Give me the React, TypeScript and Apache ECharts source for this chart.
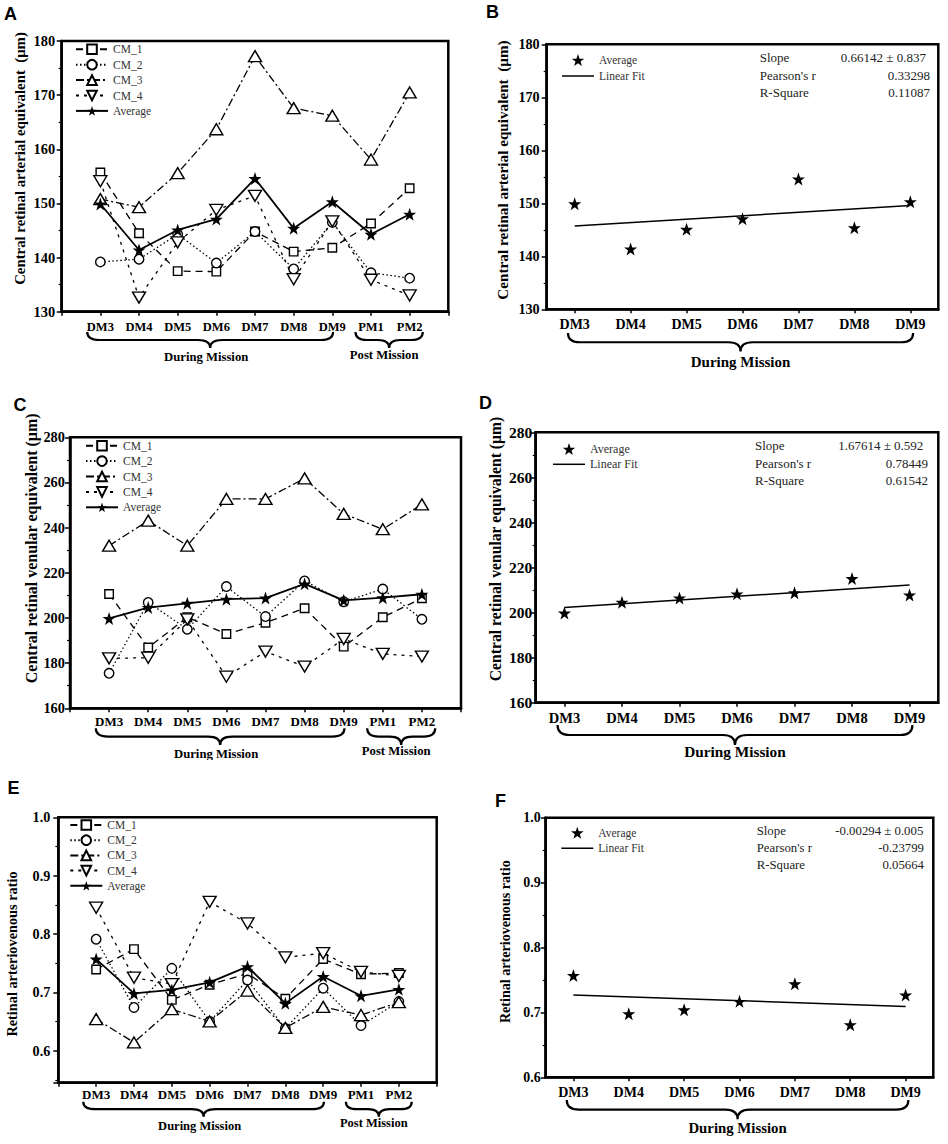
import React, { useEffect, useRef } from "react";
import * as echarts from "echarts";

// ---------- data ----------
const CATEGORIES = ["DM3", "DM4", "DM5", "DM6", "DM7", "DM8", "DM9", "PM1", "PM2"];
const DURING = CATEGORIES.slice(0, 7);

// Panel A / B : central retinal arterial equivalent (µm)
const A_CM1 = [155.7, 144.5, 137.5, 137.4, 144.8, 141.1, 141.8, 146.3, 152.8];
const A_CM2 = [139.2, 139.7, 144.3, 139.0, 144.8, 137.9, 146.5, 137.2, 136.2];
const A_CM3 = [150.8, 149.3, 155.6, 163.7, 177.2, 167.6, 166.2, 158.1, 170.5];
const A_CM4 = [154.1, 132.6, 142.8, 148.8, 151.4, 136.0, 146.7, 135.9, 133.0];
const A_AVG = [149.9, 141.4, 145.1, 147.1, 154.6, 145.4, 150.3, 144.3, 148.0];
const B_FIT = [145.7, 149.6];
const B_STATS = ["0.66142 \u00b1 0.837", "0.33298", "0.11087"];

// Panel C / D : central retinal venular equivalent (µm)
const C_CM1 = [210.6, 186.9, 200.3, 192.9, 197.9, 204.3, 187.3, 200.3, 208.7];
const C_CM2 = [175.5, 206.9, 195.0, 213.9, 200.6, 216.4, 207.2, 212.8, 199.4];
const C_CM3 = [232.0, 243.1, 232.0, 252.7, 252.7, 261.8, 246.1, 239.3, 250.3];
const C_CM4 = [182.1, 182.4, 199.4, 174.0, 185.1, 178.5, 190.7, 184.1, 182.9];
const C_AVG = [199.8, 204.6, 206.5, 208.3, 208.8, 215.1, 207.8, 209.0, 210.5];
const D_FIT = [202.2, 212.2];
const D_STATS = ["1.67614 \u00b1 0.592", "0.78449", "0.61542"];

// Panel E / F : retinal arteriovenous ratio
const E_CM1 = [0.739, 0.774, 0.687, 0.713, 0.732, 0.689, 0.757, 0.731, 0.733];
const E_CM2 = [0.791, 0.674, 0.741, 0.65, 0.721, 0.638, 0.707, 0.643, 0.684];
const E_CM3 = [0.654, 0.614, 0.671, 0.65, 0.703, 0.639, 0.675, 0.661, 0.683];
const E_CM4 = [0.845, 0.725, 0.714, 0.855, 0.818, 0.76, 0.767, 0.735, 0.728];
const E_AVG = [0.757, 0.698, 0.704, 0.717, 0.744, 0.681, 0.727, 0.694, 0.705];
const F_FIT = [0.727, 0.709];
const F_STATS = ["-0.00294 \u00b1 0.005", "-0.23799", "0.05664"];

const STAT_LABELS = ["Slope", "Pearson's r", "R-Square"];
const LEGEND_NAMES = ["CM_1", "CM_2", "CM_3", "CM_4", "Average"];

// ---------- styles ----------
const SERIF = '"Liberation Serif", "Times New Roman", serif';
const SANS = '"Liberation Sans", Arial, sans-serif';
const STAR =
  "path://M50,0L61.8,35.1L97.6,35.1L68.8,56.8L79.4,91L50,70L20.6,91L31.2,56.8L2.4,35.1L38.2,35.1Z";

const CM_STYLES = [
  { symbol: "rect", size: 8.5, rotate: 0, dash: [7, 5] },
  { symbol: "circle", size: 9.5, rotate: 0, dash: [1.5, 2.5] },
  { symbol: "triangle", size: [13, 11], rotate: 0, dash: [8, 3, 2, 3] },
  { symbol: "triangle", size: [13, 11], rotate: 180, dash: [3, 5] },
];

const BraceShape = (echarts.graphic as any).extendShape({
  shape: { x1: 0, x2: 0, xm: 0, y: 0, h: 0 },
  buildPath(ctx: any, s: any) {
    const ym = s.y + s.h * 0.5;
    const r = Math.min(12, (s.x2 - s.x1) / 6);
    ctx.moveTo(s.x1, s.y);
    ctx.quadraticCurveTo(s.x1, ym, s.x1 + r, ym);
    ctx.lineTo(s.xm - r, ym);
    ctx.quadraticCurveTo(s.xm, ym, s.xm, s.y + s.h);
    ctx.moveTo(s.xm, s.y + s.h);
    ctx.quadraticCurveTo(s.xm, ym, s.xm + r, ym);
    ctx.lineTo(s.x2 - r, ym);
    ctx.quadraticCurveTo(s.x2, ym, s.x2, s.y);
  },
});
(echarts.graphic as any).registerShape("brace", BraceShape);

function txt(x: number, y: number, text: string, size: number, opts: any = {}) {
  const align = opts.align || "left";
  return {
    type: "text",
    x,
    y,
    rotation: opts.rotation || 0,
    silent: true,
    style: {
      text,
      fill: opts.color || "#000",
      fontSize: size,
      fontWeight: opts.weight || "normal",
      fontFamily: opts.family || SERIF,
      textAlign: align,
      align,
      textVerticalAlign: "middle",
      verticalAlign: "middle",
    },
  };
}

function brace(x1: number, x2: number, y: number, h: number) {
  return {
    type: "brace",
    silent: true,
    shape: { x1, x2, xm: (x1 + x2) / 2, y, h },
    style: { fill: "none", stroke: "#000", lineWidth: 2.2 },
  };
}

const tenthFmt = (v: number) =>
  Math.abs(v * 10 - Math.round(v * 10)) < 1e-6 ? v.toFixed(1) : "";

type Panel = {
  kind: "lines" | "fit";
  letter: string;
  letterPos: [number, number];
  div: [number, number, number, number];
  grid: [number, number, number, number];
  yMin: number;
  yMax: number;
  yInterval?: number;
  yFmt?: (v: number) => string;
  yTitle: string;
  yTitlePos: [number, number];
  yTitleSize: number;
  xLabelSize: number;
  xMargin: number;
  yLabelSize: number;
  yMargin: number;
  legendLeft: number;
  legendFirst: number;
  legendGap: number;
  legendSize: number;
  braceOff: number;
  braceH: number;
  textSize: number;
  duringOff: number;
  postOff?: number;
  cm?: number[][];
  avg: number[];
  fit?: number[];
  stats?: string[];
  statX?: number;
  statYs?: number[];
  statRight?: number[];
  statSize?: number;
};

function axisCommon(p: Panel, dl: number, dt: number) {
  const yAxis: any = {
    type: "value",
    min: p.yMin,
    max: p.yMax,
    axisLine: { show: true, onZero: false, lineStyle: { color: "#000", width: 2.5 } },
    axisTick: { show: true, length: 5, lineStyle: { color: "#000", width: 1.5 } },
    minorTick: { show: true, splitNumber: 2, length: 3, lineStyle: { color: "#000", width: 1.2 } },
    axisLabel: {
      color: "#000",
      fontFamily: SERIF,
      fontWeight: "bold",
      fontSize: p.yLabelSize,
      margin: p.yMargin,
      formatter: p.yFmt || ((v: number) => String(v)),
    },
    splitLine: { show: false },
  };
  if (p.yInterval !== undefined) yAxis.interval = p.yInterval;
  else yAxis.splitNumber = 5;
  const grid = {
    left: p.grid[0] - dl,
    top: p.grid[1] - dt,
    width: p.grid[2] - p.grid[0],
    height: p.grid[3] - p.grid[1],
    show: true,
    borderColor: "#000",
    borderWidth: 2.5,
    backgroundColor: "transparent",
    containLabel: false,
    outerBoundsMode: "none",
  };
  return { yAxis, grid };
}

function buildOption(p: Panel) {
  const [dl, dt] = p.div;
  const { yAxis, grid } = axisCommon(p, dl, dt);
  const xLabel = {
    color: "#000",
    fontFamily: SERIF,
    fontWeight: "bold",
    fontSize: p.xLabelSize,
    margin: p.xMargin,
  };
  const legendBase = {
    show: true,
    orient: "vertical",
    left: p.legendLeft - dl,
    top: p.legendFirst - 6 - dt,
    itemWidth: 32,
    itemHeight: 12,
    itemGap: p.legendGap,
    padding: 0,
    selectedMode: false,
    textStyle: { fontFamily: SERIF, fontSize: p.legendSize, color: "#333", lineHeight: 12 },
  };
  if (p.kind === "lines") {
    const series: any[] = (p.cm || []).map((vals, k) => ({
      name: LEGEND_NAMES[k],
      type: "line",
      data: vals.map((v, i) => [i + 1, v]),
      symbol: CM_STYLES[k].symbol,
      symbolSize: CM_STYLES[k].size,
      symbolRotate: CM_STYLES[k].rotate,
      showAllSymbol: true,
      lineStyle: { color: "#000", width: 1.3, type: CM_STYLES[k].dash },
      itemStyle: { color: "#fff", borderColor: "#000", borderWidth: 1.4, opacity: 1 },
      emphasis: { disabled: true },
      silent: true,
      z: 2,
    }));
    series.push({
      name: "Average",
      type: "line",
      data: p.avg.map((v, i) => [i + 1, v]),
      symbol: STAR,
      symbolSize: 13,
      showAllSymbol: true,
      lineStyle: { color: "#000", width: 1.8, type: "solid" },
      itemStyle: { color: "#000", borderColor: "#000", borderWidth: 0, opacity: 1 },
      emphasis: { disabled: true },
      silent: true,
      z: 3,
    });
    return {
      animation: false,
      textStyle: { fontFamily: SERIF },
      grid,
      xAxis: {
        type: "value",
        min: 0,
        max: 10,
        interval: 1,
        axisLine: { show: true, onZero: false, lineStyle: { color: "#000", width: 2.5 } },
        axisTick: { show: true, length: 4, lineStyle: { color: "#000", width: 1.5 } },
        axisLabel: {
          ...xLabel,
          formatter: (v: number) => CATEGORIES[Math.round(v) - 1] ?? "",
        },
        splitLine: { show: false },
      },
      yAxis,
      legend: { ...legendBase, data: LEGEND_NAMES },
      series,
    };
  }
  const avg7 = p.avg.slice(0, DURING.length);
  const fit = p.fit || [];
  return {
    animation: false,
    textStyle: { fontFamily: SERIF },
    grid,
    xAxis: {
      type: "category",
      data: DURING,
      boundaryGap: true,
      axisLine: { show: true, onZero: false, lineStyle: { color: "#000", width: 2.5 } },
      axisTick: { show: true, alignWithLabel: true, length: 4, lineStyle: { color: "#000", width: 1.5 } },
      axisLabel: { ...xLabel, interval: 0 },
      splitLine: { show: false },
    },
    yAxis,
    legend: {
      ...legendBase,
      data: [{ name: "Average" }, { name: "Linear Fit", icon: "path://M0,0H32V1.5H0Z" }],
    },
    series: [
      {
        name: "Linear Fit",
        type: "line",
        data: [
          [DURING[0], fit[0]],
          [DURING[DURING.length - 1], fit[1]],
        ],
        symbol: "none",
        lineStyle: { color: "#000", width: 1.5 },
        itemStyle: { color: "#000", opacity: 1 },
        emphasis: { disabled: true },
        silent: true,
        z: 2,
      },
      {
        name: "Average",
        type: "scatter",
        data: avg7,
        symbol: STAR,
        symbolSize: 13,
        itemStyle: { color: "#000", opacity: 1 },
        emphasis: { disabled: true },
        silent: true,
        z: 3,
      },
    ],
  };
}

function buildGraphics(p: Panel, chart: any) {
  const [dl, dt] = p.div;
  const els: any[] = [];
  els.push(txt(p.letterPos[0] - dl, p.letterPos[1] - dt, p.letter, 18, { family: SANS, weight: "bold", align: "center" }));
  els.push(
    txt(p.yTitlePos[0] - dl, p.yTitlePos[1] - dt, p.yTitle, p.yTitleSize, {
      weight: "bold",
      align: "center",
      rotation: Math.PI / 2,
    })
  );
  const axisY = p.grid[3] - dt;
  const px = (v: number) => chart.convertToPixel({ xAxisIndex: 0 }, v) as number;
  if (p.kind === "lines") {
    const d1 = px(0.66), d2 = px(7.02);
    const q1 = px(7.6), q2 = px(9.34);
    els.push(brace(d1, d2, axisY + p.braceOff, p.braceH));
    els.push(brace(q1, q2, axisY + p.braceOff, p.braceH));
    els.push(txt((d1 + d2) / 2 - 4, axisY + p.duringOff, "During Mission", p.textSize, { weight: "bold", align: "center" }));
    els.push(txt((q1 + q2) / 2 - 5, axisY + (p.postOff || p.duringOff), "Post Mission", p.textSize, { weight: "bold", align: "center" }));
  } else {
    const c0 = px(0);
    const sp = px(1) - c0;
    const c6 = px(DURING.length - 1);
    const b1 = c0 - 0.12 * sp, b2 = c6 + 0.05 * sp;
    els.push(brace(b1, b2, axisY + p.braceOff, p.braceH));
    els.push(txt((b1 + b2) / 2, axisY + p.duringOff, "During Mission", p.textSize, { weight: "bold", align: "center" }));
    const ys = p.statYs || [];
    const rights = p.statRight || [];
    STAT_LABELS.forEach((lab, i) => {
      els.push(txt((p.statX || 0) - dl, ys[i] - dt, lab, p.statSize || 13, { color: "#222" }));
      els.push(txt(rights[i] - dl, ys[i] - dt, (p.stats || [])[i], p.statSize || 13, { color: "#222", align: "right" }));
    });
  }
  return els;
}

// ---------- panel layout (page coordinates) ----------
const PANELS: Panel[] = [
  {
    kind: "lines", letter: "A", letterPos: [10.5, 13.5],
    div: [0, 0, 474, 372], grid: [61.7, 41, 448.3, 311.7],
    yMin: 130, yMax: 180, yInterval: 10,
    yTitle: "Central retinal arterial equivalent  (\u03bcm)", yTitlePos: [20, 158.5], yTitleSize: 14.8,
    xLabelSize: 12.5, xMargin: 8.5, yLabelSize: 14.4, yMargin: 6.5,
    legendLeft: 75, legendFirst: 49.3, legendGap: 3.4, legendSize: 11.5,
    braceOff: 20.3, braceH: 16, textSize: 12.7, duringOff: 45.3, postOff: 43.3,
    cm: [A_CM1, A_CM2, A_CM3, A_CM4], avg: A_AVG,
  },
  {
    kind: "fit", letter: "B", letterPos: [492.5, 12],
    div: [474, 0, 474, 372], grid: [546.7, 44.3, 938.3, 309.3],
    yMin: 130, yMax: 180, yInterval: 10,
    yTitle: "Central retinal arterial equivalent  (\u03bcm)", yTitlePos: [502.3, 170], yTitleSize: 15.2,
    xLabelSize: 14, xMargin: 8, yLabelSize: 14.2, yMargin: 7,
    legendLeft: 562, legendFirst: 60, legendGap: 4, legendSize: 11.5,
    braceOff: 23.7, braceH: 18.5, textSize: 15, duringOff: 52.5,
    avg: A_AVG, fit: B_FIT, stats: B_STATS,
    statX: 759.7, statYs: [57.7, 75.3, 92.3], statRight: [926, 930, 930], statSize: 13,
  },
  {
    kind: "lines", letter: "C", letterPos: [20, 405],
    div: [0, 372, 474, 388], grid: [70, 437.3, 461, 708.3],
    yMin: 160, yMax: 280, yInterval: 20,
    yTitle: "Central retinal venular equivalent (\u03bcm)", yTitlePos: [31, 548.3], yTitleSize: 16,
    xLabelSize: 13, xMargin: 7, yLabelSize: 14.4, yMargin: 5,
    legendLeft: 85, legendFirst: 445.7, legendGap: 3.4, legendSize: 11.5,
    braceOff: 20, braceH: 16.7, textSize: 12.7, duringOff: 45.7, postOff: 42.4,
    cm: [C_CM1, C_CM2, C_CM3, C_CM4], avg: C_AVG,
  },
  {
    kind: "fit", letter: "D", letterPos: [485.5, 403],
    div: [474, 372, 474, 388], grid: [535.7, 432.3, 938.3, 702.7],
    yMin: 160, yMax: 280, yInterval: 20,
    yTitle: "Central retinal venular equivalent (\u03bcm)", yTitlePos: [495.7, 549], yTitleSize: 15.7,
    xLabelSize: 14.5, xMargin: 7.3, yLabelSize: 15.5, yMargin: 3.5,
    legendLeft: 553, legendFirst: 449, legendGap: 3.3, legendSize: 12,
    braceOff: 22.3, braceH: 20, textSize: 15.3, duringOff: 49,
    avg: C_AVG, fit: D_FIT, stats: D_STATS,
    statX: 755, statYs: [445.7, 463.3, 480.7], statRight: [923.3, 928, 928], statSize: 13,
  },
  {
    kind: "lines", letter: "E", letterPos: [13.5, 788],
    div: [0, 760, 474, 384], grid: [58.3, 817.3, 436.7, 1082.7],
    yMin: 0.545, yMax: 1.0, yFmt: tenthFmt,
    yTitle: "Retinal arteriovenous ratio", yTitlePos: [11.7, 954], yTitleSize: 14.3,
    xLabelSize: 13, xMargin: 5, yLabelSize: 14.2, yMargin: 8,
    legendLeft: 69.3, legendFirst: 825, legendGap: 3.2, legendSize: 11.5,
    braceOff: 19, braceH: 15, textSize: 12.5, duringOff: 43.3, postOff: 40.6,
    cm: [E_CM1, E_CM2, E_CM3, E_CM4], avg: E_AVG,
  },
  {
    kind: "fit", letter: "F", letterPos: [500.5, 801],
    div: [474, 760, 474, 384], grid: [545.7, 817.7, 933.3, 1077.3],
    yMin: 0.6, yMax: 1.0, yInterval: 0.1, yFmt: tenthFmt,
    yTitle: "Retinal arteriovenous ratio", yTitlePos: [504.5, 941.7], yTitleSize: 14.1,
    xLabelSize: 14, xMargin: 8, yLabelSize: 13.9, yMargin: 5,
    legendLeft: 561.3, legendFirst: 832.7, legendGap: 3.6, legendSize: 11.5,
    braceOff: 22.7, braceH: 19.3, textSize: 14.8, duringOff: 50.4,
    avg: E_AVG, fit: F_FIT, stats: F_STATS,
    statX: 756.7, statYs: [830.7, 847.7, 865], statRight: [923.3, 924, 924], statSize: 12.8,
  },
];

function ChartPanel({ p }: { p: Panel }) {
  const ref = useRef<HTMLDivElement>(null);
  useEffect(() => {
    if (!ref.current) return;
    const chart = echarts.init(ref.current, null, { renderer: "svg" });
    chart.setOption(buildOption(p) as any);
    chart.setOption({ graphic: buildGraphics(p, chart) } as any);
    return () => chart.dispose();
  }, [p]);
  return (
    <div
      ref={ref}
      style={{
        position: "absolute",
        left: p.div[0],
        top: p.div[1],
        width: p.div[2],
        height: p.div[3],
        overflow: "hidden",
      }}
    />
  );
}

export default function App() {
  return (
    <div
      style={{
        position: "absolute",
        left: 0,
        top: 0,
        width: 948,
        height: 1144,
        background: "#fff",
        overflow: "hidden",
      }}
    >
      {PANELS.map((p) => (
        <ChartPanel key={p.letter} p={p} />
      ))}
    </div>
  );
}
